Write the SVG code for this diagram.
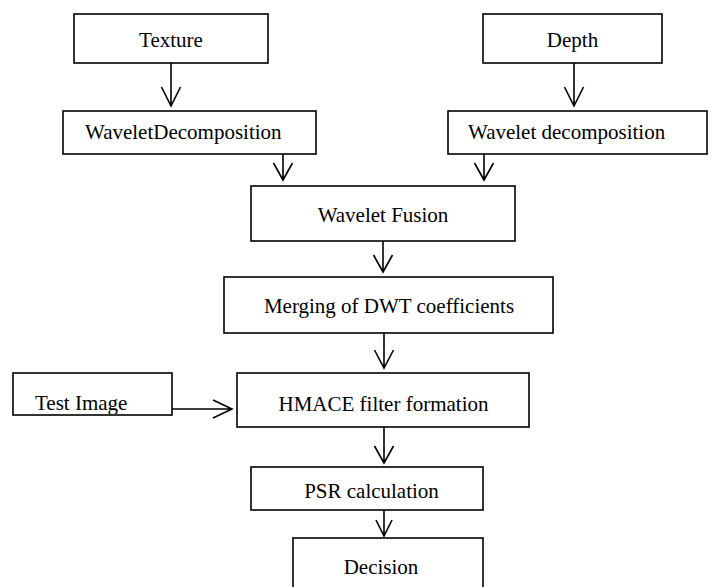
<svg xmlns="http://www.w3.org/2000/svg" width="713" height="587" viewBox="0 0 713 587">
<style>
rect.box{fill:#fff;stroke:#000;stroke-width:1.6}
text{font-family:"Liberation Serif","Times New Roman",serif;font-size:21px;fill:#000}
.c{text-anchor:middle}
#connectors path{fill:none;stroke:#000;stroke-width:1.6}
</style>
<defs>
<clipPath id="clipTest"><rect x="13" y="373" width="159" height="41"/></clipPath>
</defs>
<g id="connectors">
<path d="M171,63V106M161.5,87L171,106L180.5,87"/>
<path d="M574,63V106M564.5,87L574,106L583.5,87"/>
<path d="M283,154V180M273.5,163L283,180L292.5,163"/>
<path d="M484,154V180M474.5,163L484,180L493.5,163"/>
<path d="M383,241V272M373.5,255L383,272L392.5,255"/>
<path d="M384,333V368M374.5,350L384,368L393.5,350"/>
<path d="M172,409H232M213,400L232,409L213,418"/>
<path d="M384,427V463M374.5,446L384,463L393.5,446"/>
<path d="M384,510V536M376,520L384,536L392,520"/>
</g>
<g id="texture"><rect class="box" x="74" y="14" width="194" height="49"/><text class="c" x="171" y="47">Texture</text></g>
<g id="depth"><rect class="box" x="483" y="14" width="179" height="49"/><text class="c" x="572.5" y="47">Depth</text></g>
<g id="wd-left"><rect class="box" x="63" y="111" width="253" height="43"/><text x="85" y="139">WaveletDecomposition</text></g>
<g id="wd-right"><rect class="box" x="448" y="111" width="259" height="43"/><text x="468" y="139">Wavelet decomposition</text></g>
<g id="fusion"><rect class="box" x="251" y="186" width="264" height="55"/><text class="c" x="383" y="222">Wavelet Fusion</text></g>
<g id="merging"><rect class="box" x="224" y="277" width="329" height="56"/><text class="c" x="389" y="313">Merging of DWT coefficients</text></g>
<g id="test-image"><rect class="box" x="13" y="373" width="159" height="42"/><text x="35" y="410" clip-path="url(#clipTest)">Test Image</text></g>
<g id="hmace"><rect class="box" x="237" y="373" width="292" height="54"/><text class="c" x="383.5" y="411">HMACE filter formation</text></g>
<g id="psr"><rect class="box" x="251" y="467" width="232" height="43"/><text class="c" x="371.5" y="498">PSR calculation</text></g>
<g id="decision"><rect class="box" x="293" y="538" width="190" height="70"/><text class="c" x="381" y="574">Decision</text></g>
</svg>
